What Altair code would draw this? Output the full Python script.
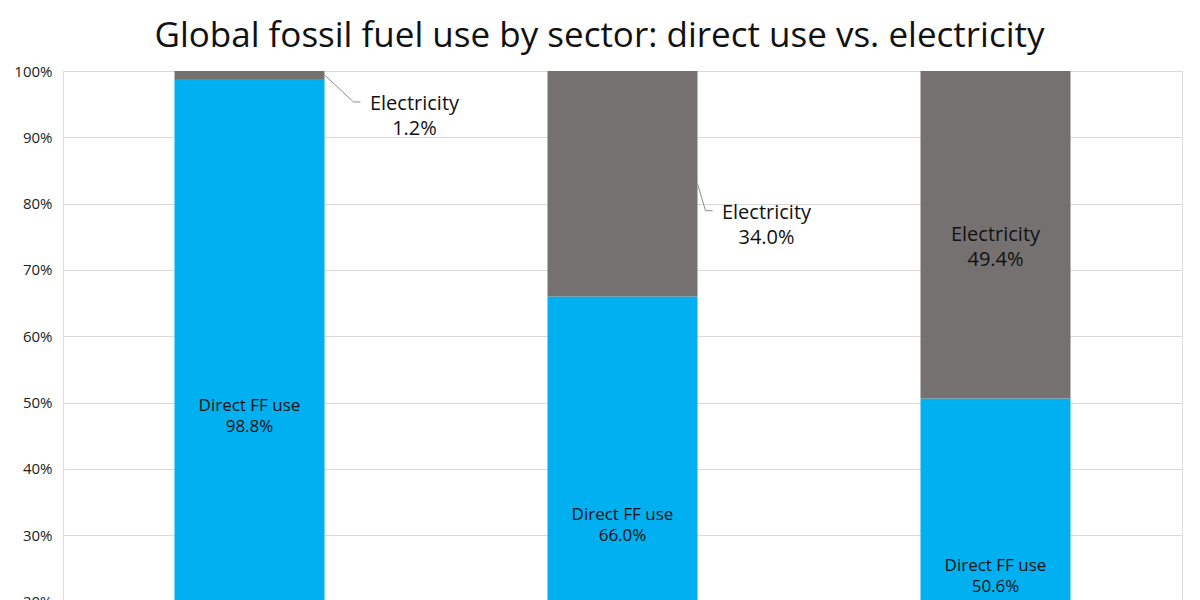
import altair as alt
import pandas as pd

categories = ["Transport", "Industry", "Buildings"]
direct_use = [98.8, 66.0, 50.6]
electricity = [1.2, 34.0, 49.4]
segments = ["Direct FF use", "Electricity"]
colors = ["#00B0F0", "#767171"]
y_ticks = [0, 10, 20, 30, 40, 50, 60, 70, 80, 90, 100]

rows = []
for i, c in enumerate(categories):
    d, e = direct_use[i], electricity[i]
    rows.append(dict(cat=c, seg=segments[0], start=0.0, end=d, mid=d / 2,
                     label=f"{segments[0]}\n{d:.1f}%", inside=True, idx=i))
    rows.append(dict(cat=c, seg=segments[1], start=d, end=d + e, mid=d + e / 2,
                     label=f"{segments[1]}\n{e:.1f}%", inside=e > 40, idx=i))
df = pd.DataFrame(rows)

FONT = "Open Sans"
W, H = 1119, 663
HALF = 75  # half bar width in px

x = alt.X("cat:N", sort=categories, title=None,
          scale=alt.Scale(paddingInner=0.598, paddingOuter=0.299),
          axis=alt.Axis(labels=False, ticks=False, domain=False))
y = alt.Y("start:Q", title=None,
          scale=alt.Scale(domain=[0, 100], nice=False),
          axis=alt.Axis(values=y_ticks, labelExpr="datum.value + '%'",
                        ticks=False, domain=False, labelPadding=11,
                        labelFontSize=15, labelColor="#222222", labelFont=FONT,
                        gridColor="#d9d9d9", gridWidth=1))

base = alt.Chart(df)

bars = base.mark_bar(size=150).encode(
    x=x, y=y, y2="end:Q",
    color=alt.Color("seg:N", scale=alt.Scale(domain=segments, range=colors), legend=None),
)

inside_direct = base.transform_filter("datum.inside && datum.seg == 'Direct FF use'").mark_text(
    lineBreak="\n", fontSize=17, font=FONT, color="#111111", baseline="middle", lineHeight=21
).encode(x=x, y=alt.Y("mid:Q"), text="label:N")

inside_elec = base.transform_filter("datum.inside && datum.seg == 'Electricity'").mark_text(
    lineBreak="\n", fontSize=20, font=FONT, color="#111111", baseline="middle", lineHeight=25
).encode(x=x, y=alt.Y("mid:Q"), text="label:N")

layers = [bars, inside_direct, inside_elec]

leader_dx = {0: 29, 1: 8}
for i, d in leader_dx.items():
    sub = base.transform_filter(f"datum.idx == {i} && datum.seg == 'Electricity'")
    diag = sub.mark_rule(color="#8c8c8c", strokeWidth=1,
                         xOffset=HALF, x2Offset=HALF + d, yOffset=0, y2Offset=27).encode(
        x=x, x2="cat:N", y=alt.Y("mid:Q"), y2="mid:Q")
    horiz = sub.mark_rule(color="#8c8c8c", strokeWidth=1,
                          xOffset=HALF + d, x2Offset=HALF + d + 7, yOffset=27, y2Offset=27).encode(
        x=x, x2="cat:N", y=alt.Y("mid:Q"), y2="mid:Q")
    txt = sub.mark_text(lineBreak="\n", fontSize=20, font=FONT, color="#111111",
                        baseline="middle", align="center", lineHeight=25,
                        xOffset=HALF + d + 7 + 54, yOffset=29).encode(
        x=x, y=alt.Y("mid:Q"), text="label:N")
    layers += [diag, horiz, txt]

chart = alt.layer(*layers).properties(
    width=W, height=H,
    padding={"top": 11, "left": 5, "right": 5, "bottom": 5},
    title=alt.TitleParams("Global fossil fuel use by sector: direct use vs. electricity",
                          fontSize=35, font=FONT, fontWeight="normal", color="#111111",
                          anchor="middle", offset=10, dx=-23),
).configure_view(stroke=None).configure(background="white")

chart.save("out.html", embed_options={"renderer": "svg", "actions": False})
